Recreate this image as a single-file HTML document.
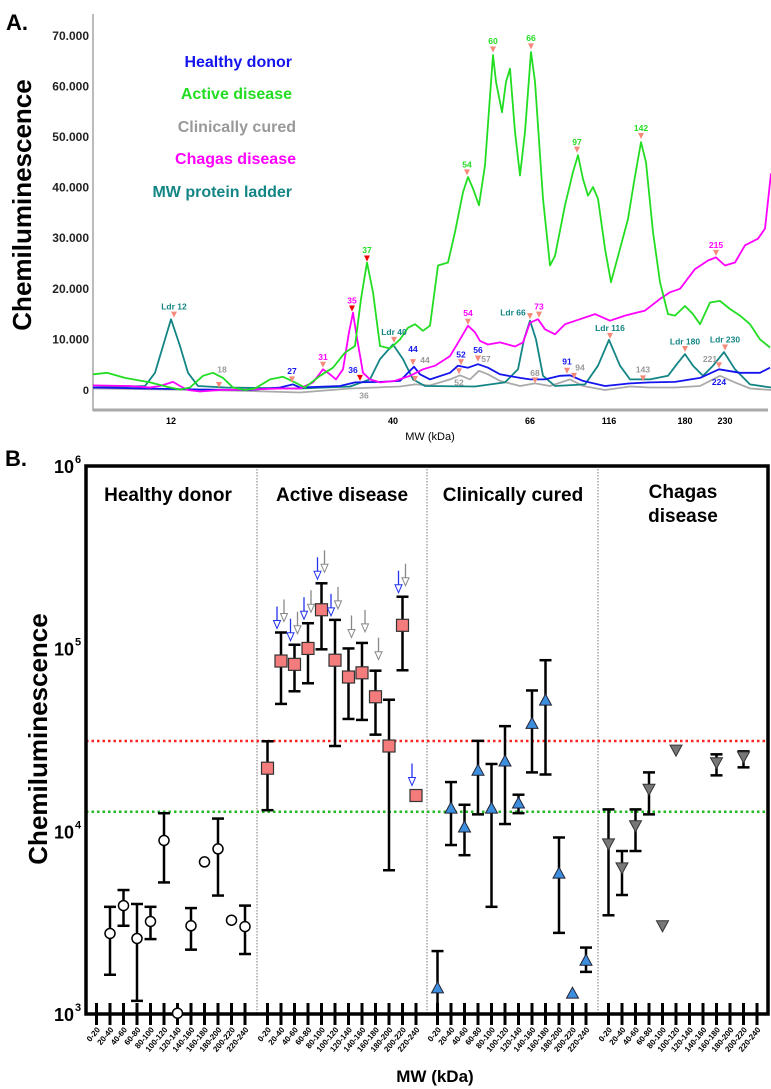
<!DOCTYPE html>
<html><head><meta charset="utf-8">
<style>
html,body{margin:0;padding:0;background:#fff;}
svg{display:block;font-family:"Liberation Sans",sans-serif;}
</style></head>
<body>
<svg id="chart" width="771" height="1089" viewBox="0 0 771 1089" xmlns="http://www.w3.org/2000/svg">
<g id="panelA">
  <text x="6" y="30" font-size="22" font-weight="bold">A.</text>
  <text transform="translate(31,205) rotate(-90)" text-anchor="middle" font-size="26" font-weight="bold">Chemiluminescence</text>
  <line x1="93" y1="14" x2="93" y2="411" stroke="#777" stroke-width="1"/>
  <line x1="93" y1="410" x2="768" y2="410" stroke="#aaa" stroke-width="3"/>
  <text x="430" y="440" text-anchor="middle" font-size="11">MW (kDa)</text>
  <g id="legendA" font-size="16" font-weight="bold" text-anchor="end">
    <text x="292" y="67" fill="#1414ee">Healthy donor</text>
    <text x="292" y="99" fill="#22dd22">Active disease</text>
    <text x="296" y="132" fill="#999">Clinically cured</text>
    <text x="296" y="164" fill="#f0f">Chagas disease</text>
    <text x="292" y="197" fill="#138585">MW protein ladder</text>
  </g>
</g>
<g id="panelB">
  <text x="5" y="466" font-size="22" font-weight="bold">B.</text>
  <text transform="translate(47,739) rotate(-90)" text-anchor="middle" font-size="26" font-weight="bold">Chemiluminescence</text>
  <text x="435" y="1082" text-anchor="middle" font-size="17" font-weight="bold">MW (kDa)</text>
</g>
<script>
// ---------- Panel A data ----------
const aTicksVal = [0,10,20,30,40,50,60,70];
const aTickLabels = ["0","10.000","20.000","30.000","40.000","50.000","60.000","70.000"];
const aXLabels = ["12","40","66","116","180","230"];
const aXLabelPos = [78,300,437,516,592,632];
const activeM = [0,14,32,57,77,87,97,110,120,130,140,152,162,177,190,202,212,227,240,252,262,268,274,280,287,297,307,315,322,330,337,345,355,362,370,375,380,386,392,400,403,409,413,417,422,427,432,438,442,450,457,462,472,480,485,490,495,500,505,512,518,527,535,541,548,553,560,567,575,582,592,600,607,617,627,637,647,657,667,677];
const activeV = [3.1,3.4,2.4,1.5,0.5,0.1,0.5,2.8,3.4,2.4,0.5,0,0.3,2.1,2.6,1.5,0.5,2.8,4.4,7.4,8.7,18.0,25.2,19.3,8.7,8.2,10.0,12.3,13.0,11.7,12.7,24.6,25.2,31.2,39.1,42.1,39.8,36.5,44.4,66.2,60.9,54.9,60.9,63.5,51.0,42.4,51.0,66.8,60.9,37.8,24.6,26.5,36.5,43.1,46.4,41.7,38.4,40.1,37.8,27.9,21.3,27.9,33.8,41.1,49.0,45.0,31.2,21.3,15.0,14.7,16.6,15.0,13.0,17.3,17.6,16.0,14.7,13.0,10.0,8.4];
const chagasM = [0,37,57,67,80,87,95,107,127,157,187,207,220,230,237,243,250,256,260,263,270,277,287,302,317,330,342,357,367,375,382,387,395,407,422,430,437,445,452,462,472,487,502,517,532,552,567,577,587,602,615,623,632,642,652,665,672,678];
const chagasV = [0.9,0.8,0.5,0.8,1.6,0.8,0,-0.3,0,0.1,0.3,0.3,1.5,4.1,3.1,2.1,4.1,11.4,15.3,11.4,3.4,2.1,1.5,1.8,2.8,4.1,4.8,6.7,10.0,12.7,11.4,9.7,9.0,9.4,8.6,9.4,13.3,14.0,12.0,11.0,13.0,14.0,15.0,13.7,14.7,15.7,18.0,19.3,20.0,23.9,25.6,26.2,24.6,25.2,28.6,29.9,31.9,42.8];
const ladderM = [0,52,62,70,78,87,95,105,132,207,257,277,287,300,310,320,332,382,412,425,431,437,443,450,462,492,505,516,527,537,557,575,585,592,600,610,620,631,642,657,678];
const ladderV = [0.5,0.8,3.4,8.7,14.0,8.7,3.4,0.8,0.5,0.3,0.7,2.1,6.1,9.0,6.1,2.1,0.8,0.7,1.5,4.1,10.0,13.7,10.0,2.8,0.8,1.1,4.8,9.9,4.8,2.1,2.1,2.8,5.4,7.1,4.8,2.8,4.8,7.5,4.1,1.1,0.5];
const healthyM = [0,107,157,187,200,207,247,262,287,307,315,321,327,337,357,365,375,385,395,407,427,437,452,467,477,490,512,537,557,582,607,626,647,667,677];
const healthyV = [0.5,0.1,0,0.5,1.1,0.5,0.8,1.5,1.6,1.8,3.4,4.6,3.1,2.1,3.4,4.8,4.4,5.1,4.4,3.1,2.4,2.1,2.1,2.8,2.9,1.8,0.8,1.3,1.5,1.6,2.4,4.1,3.4,3.4,4.4];
const curedM = [0,107,157,207,257,307,322,337,357,367,377,386,395,407,427,442,457,477,490,512,537,557,582,607,627,642,657,678];
const curedV = [0.3,0,-0.2,-0.5,0.3,0.7,1.1,0.9,2.1,2.9,2.1,3.8,3.1,1.8,0.8,1.3,0.8,2.1,0.8,0,0.7,0.5,0.5,0.8,2.8,1.5,0.3,0];
const peakText = ["37","54","60","66","97","142","31","35","54","73","215","Ldr 12","Ldr 40","Ldr 66","Ldr 116","Ldr 180","Ldr 230","27","36","44","52","56","91","224","18","44","36","52","57","68","94","143","221"];
const peakLabelM = [274,374,400,438,484,548,230,259,375,446,623,81,301,420,517,592,632,199,260,320,368,385,474,626,129,332,271,366,393,442,487,550,617];
const peakLabelV = [27.7,44.6,69.0,69.6,49.0,51.8,6.5,17.7,15.2,16.5,28.7,16.5,11.5,15.3,12.3,9.6,10.0,3.8,4.0,8.1,7.0,7.9,5.6,1.6,4.1,5.9,-1.1,1.5,6.1,3.4,4.4,4.1,6.1];
const peakMarkM = [274,374,400,438,484,548,230,259,375,446,623,81,301,437,517,592,632,199,267,320,368,385,474,626,126,322,null,366,385,442,481,550,null];
const peakMarkV = [26.0,43.0,67.3,67.9,47.5,50.2,5.0,16.1,13.5,14.9,27.1,14.9,9.9,14.6,10.7,8.1,8.4,2.1,2.4,5.5,5.5,6.2,3.8,4.9,1.0,2.2,null,3.7,6.2,1.9,2.8,2.3,null];
const peakColor = ["g","g","g","g","g","g","m","m","m","m","m","t","t","t","t","t","t","b","b","b","b","b","b","b","k","k","k","k","k","k","k","k","k"];
const peakRed = [1,0,0,0,0,0,0,1,0,0,0,0,0,0,0,0,0,0,1,0,0,0,0,0,0,0,0,0,0,0,0,0,0];

// ---------- Panel B data ----------
const bCategories = ["0-20","20-40","40-60","60-80","80-100","100-120","120-140","140-160","160-180","180-200","200-220","220-240"];
const bGroups = ["Healthy donor","Active disease","Clinically cured","Chagas disease"];
const bYTicks = [1000,10000,100000,1000000];
const bYTickExp = ["3","4","5","6"];
const cutoffRed = 31200;
const cutoffGreen = 12800;
const healthyIdx = [1,2,3,4,5,6,7,8,9,10,11];
const healthyMean = [2760,3920,2590,3210,8910,1010,3040,6800,8010,3260,3010];
const healthyHi = [3860,4770,4000,3860,12560,null,3800,null,11740,null,3920];
const healthyLo = [1640,3040,1180,2570,5250,null,2250,null,4450,null,2130];
const activeIdx = [0,1,2,3,4,5,6,7,8,9,10,11];
const activeMean = [22150,85500,82000,100200,163200,86400,69900,73700,54500,29300,134100,15700];
const activeHi = [31100,122500,105000,137700,227800,143600,100200,107400,75700,52500,192300,null];
const activeLo = [13050,49800,58400,64600,99100,29300,41200,40700,33800,6120,76100,null];
const activeBlueArrow = [0,1,1,1,1,1,0,0,0,0,1,1];
const activeGrayArrow = [0,1,1,1,1,1,1,1,1,0,1,0];
const curedIdx = [0,1,2,3,4,5,6,7,8,9,10,11];
const curedMean = [1390,13400,10560,21600,13400,24250,14280,38950,52250,5900,1300,1970];
const curedHi = [2210,18600,13970,31260,23360,37630,15860,59000,86400,9250,null,2310];
const curedLo = [1000,8410,7400,12380,3860,10960,12570,21010,20460,2780,null,1700];
const chagasIdx = [0,1,2,3,4,5,8,10];
const chagasMean = [8540,6310,10720,17000,3040,27800,23740,25550];
const chagasHi = [13180,7800,13180,21010,null,null,26380,27390];
const chagasLo = [3470,4480,7800,12380,null,null,20240,22390];

const NS = "http://www.w3.org/2000/svg";
const gA = document.getElementById('panelA');
const gB = document.getElementById('panelB');
function mk(tag, attrs, parent){
  const e = document.createElementNS(NS, tag);
  for (const k in attrs) e.setAttribute(k, attrs[k]);
  parent.appendChild(e);
  return e;
}
const ax = m => 93 + m;
const ay = v => 390 - v * 5.06;
aTicksVal.forEach((v,i)=>{
  const t = mk('text',{x:89,y:ay(v)+4,'text-anchor':'end','font-size':(i===0?11:12),'font-weight':'bold',fill:'#222'},gA);
  
  
  t.textContent = aTickLabels[i];
});
aXLabels.forEach((s,i)=>{
  const t = mk('text',{x:ax(aXLabelPos[i]),y:424,'text-anchor':'middle','font-size':9,'font-weight':'bold'},gA);
  
  
  t.textContent = s;
});
const colors = {g:'#22dd22',m:'#f0f',t:'#138585',b:'#1414ee',k:'#999'};
function line(M,V,col,name){
  const d = M.map((m,i)=>(i?'L':'M')+ax(m).toFixed(1)+','+ay(V[i]).toFixed(1)).join('');
  const p = mk('path',{d:d,fill:'none',stroke:col,'stroke-width':1.8,'stroke-linejoin':'round'},gA);
  
  
}
line(curedM,curedV,'#aaa','series-clinically-cured');
line(ladderM,ladderV,'#138585','series-mw-ladder');
line(healthyM,healthyV,'#1414ee','series-healthy-donor');
line(chagasM,chagasV,'#f0f','series-chagas-disease');
line(activeM,activeV,'#22dd22','series-active-disease');
peakText.forEach((s,i)=>{
  const t = mk('text',{x:ax(peakLabelM[i]),y:ay(peakLabelV[i])+3,'text-anchor':'middle','font-size':8.5,'font-weight':'bold',fill:colors[peakColor[i]]},gA);
  
  
  t.textContent = s;
  if (peakMarkM[i] !== null){
    const x = ax(peakMarkM[i]), y = ay(peakMarkV[i]);
    const tri = mk('path',{d:`M${x-3},${y-3}L${x+3},${y-3}L${x},${y+3}Z`,fill:peakRed[i]?'#e00':'#f58a7a'},gA);
    
    
  }
});
const L=86, R=768, T=466, B=1014;
const by = v => B - (Math.log10(v) - 3) * 182.7;
const groupLeft = [86,257,427,598];
const bx = (g,i) => groupLeft[g] + 10.5 + i * 13.5;
bYTicks.forEach((v,i)=>{
  const t = mk('text',{x:74,y:by(v)+7,'text-anchor':'end','font-size':18,'font-weight':'bold'},gB);
  
  
  t.textContent = '10';
  const s = mk('text',{x:75,y:by(v)-3,'font-size':11,'font-weight':'bold'},gB);
  
  
  s.textContent = bYTickExp[i];
});
[1,2,3].forEach(g=>{
  const l = mk('line',{x1:groupLeft[g],y1:T,x2:groupLeft[g],y2:B,stroke:'#555','stroke-width':0.8,'stroke-dasharray':'1.5 1.5'},gB);
  
  
});
const rl = mk('line',{x1:L,y1:by(cutoffRed),x2:R,y2:by(cutoffRed),stroke:'#f22','stroke-width':2.5,'stroke-dasharray':'2.5 3'},gB);


const gl = mk('line',{x1:L,y1:by(cutoffGreen),x2:R,y2:by(cutoffGreen),stroke:'#22bb22','stroke-width':2.5,'stroke-dasharray':'2.5 3'},gB);


const frame = mk('rect',{x:L,y:T,width:R-L,height:B-T,fill:'none',stroke:'#000','stroke-width':3.5},gB);


const titleX = [168,342,513,683];
bGroups.forEach((s,g)=>{
  if (g===3){
    const t1 = mk('text',{x:titleX[g],y:498,'text-anchor':'middle','font-size':19,'font-weight':'bold'},gB);
    
    
    t1.textContent='Chagas';
    const t2 = mk('text',{x:titleX[g],y:522,'text-anchor':'middle','font-size':19,'font-weight':'bold'},gB);
    
    
    t2.textContent='disease';
  } else {
    const t = mk('text',{x:titleX[g],y:501,'text-anchor':'middle','font-size':19,'font-weight':'bold'},gB);
    
    
    t.textContent = s;
  }
  bCategories.forEach((c,i)=>{
    const x = bx(g,i);
    const tk = mk('line',{x1:x,y1:1003,x2:x,y2:1025,stroke:'#000','stroke-width':3},gB);
    
    
    const lb = mk('text',{transform:`translate(${x+4},${1030}) rotate(-50)`,'text-anchor':'end','font-size':8,'font-weight':'bold'},gB);
    
    
    lb.textContent = c;
  });
});
function errbar(x,hi,lo){
  if (hi===null) return;
  const y1 = by(hi), y2 = by(Math.max(lo,1000));
  const v = mk('line',{x1:x,y1:y1,x2:x,y2:y2,stroke:'#000','stroke-width':2.5},gB);
  
  
  const c1 = mk('line',{x1:x-6,y1:y1,x2:x+6,y2:y1,stroke:'#000','stroke-width':2.5},gB);
  
  
  if (lo>1000){
    const c2 = mk('line',{x1:x-6,y1:y2,x2:x+6,y2:y2,stroke:'#000','stroke-width':2.5},gB);
    
    
  }
}
function arrow(x,tipY,col,name){
  const s = mk('line',{x1:x,y1:tipY-22,x2:x,y2:tipY-7,stroke:col,'stroke-width':1.3},gB);
  
  
  const h = mk('path',{d:`M${x-3.5},${tipY-8}L${x+3.5},${tipY-8}L${x},${tipY}Z`,fill:'#fff',stroke:col,'stroke-width':1},gB);
  
  
}
healthyIdx.forEach((ci,k)=>{
  const x = bx(0,ci);
  errbar(x,healthyHi[k],healthyLo[k]);
  const c = mk('circle',{cx:x,cy:by(healthyMean[k]),r:5,fill:'#fff',stroke:'#000','stroke-width':1.5},gB);
  
  
});
activeIdx.forEach((ci,k)=>{
  const x = bx(1,ci);
  errbar(x,activeHi[k],activeLo[k]);
  const y = by(activeMean[k]);
  const r = mk('rect',{x:x-6,y:y-6,width:12,height:12,fill:'#f47c7c',stroke:'#333','stroke-width':1.2},gB);
  
  
  const top = activeHi[k]===null ? y-6 : by(activeHi[k]);
  if (activeBlueArrow[k]) arrow(x-4, top-4, '#2233ee', 'arrow-blue');
  if (activeGrayArrow[k]) arrow(x+3, top-11, '#888', 'arrow-gray');
});
curedIdx.forEach((ci,k)=>{
  const x = bx(2,ci);
  errbar(x,curedHi[k],curedLo[k]);
  const y = by(curedMean[k]);
  const t = mk('path',{d:`M${x},${y-6}L${x+6},${y+5}L${x-6},${y+5}Z`,fill:'#3d8ede',stroke:'#223','stroke-width':1},gB);
  
  
});
chagasIdx.forEach((ci,k)=>{
  const x = bx(3,ci);
  errbar(x,chagasHi[k],chagasLo[k]);
  const y = by(chagasMean[k]);
  const t = mk('path',{d:`M${x-6},${y-5}L${x+6},${y-5}L${x},${y+6}Z`,fill:'#777',stroke:'#333','stroke-width':1},gB);
  
  
});
</script>
</svg>
</body></html>
